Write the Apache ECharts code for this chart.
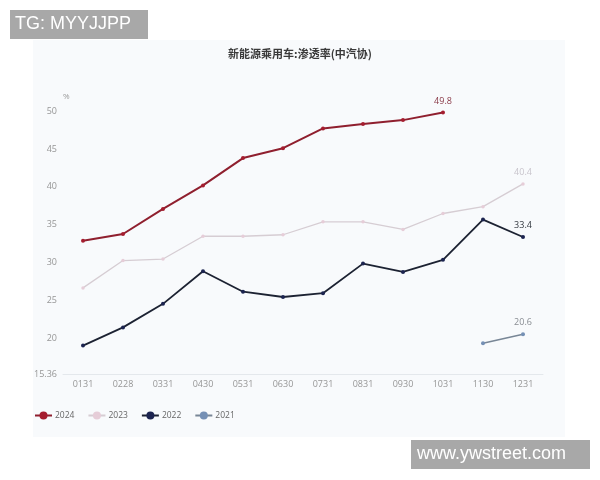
<!DOCTYPE html>
<html>
<head>
<meta charset="utf-8">
<script src="https://cdn.jsdelivr.net/npm/echarts@6/dist/echarts.min.js"></script>
<style>
html,body{margin:0;padding:0;background:#fff;}
#main{width:600px;height:480px;}
</style>
</head>
<body>
<div id="main"></div>
<script>
var categories = ['0131','0228','0331','0430','0531','0630','0731','0831','0930','1031','1130','1231'];
var s2024 = [32.9, 33.8, 37.1, 40.2, 43.8, 45.1, 47.7, 48.3, 48.8, 49.8, null, null];
var s2023 = [26.7, 30.3, 30.5, 33.5, 33.5, 33.7, 35.4, 35.4, 34.4, 36.5, 37.4, 40.4];
var s2022 = [19.1, 21.5, 24.6, 28.9, 26.2, 25.5, 26.0, 29.9, 28.8, 30.4, 35.7, 33.4];
var s2021 = [null, null, null, null, null, null, null, null, null, null, 19.4, 20.6];
var seriesNames = ['2024','2023','2022','2021'];
var yMin = 15.36, yMax = 50;

function lastLabel(arr, color) {
  var last = -1;
  for (var i = 0; i < arr.length; i++) if (arr[i] != null) last = i;
  return arr.map(function (v, i) {
    if (i === last) return {value: v, label: {show: true, position: 'top', color: color, fontSize: 9, fontFamily: 'Open Sans', distance: 5}};
    return v;
  });
}

var chart = echarts.init(document.getElementById('main'), null, {renderer: 'canvas'});
var option = {
  backgroundColor: '#ffffff',
  animation: false,
  title: {
    text: '新能源乘用车:渗透率(中汽协)',
    left: 'center',
    top: 43,
    textStyle: {fontSize: 11, fontWeight: 'bold', color: '#3a3a3a', fontFamily: 'Noto Sans CJK SC'}
  },
  graphic: [
    {type: 'rect', z: -10, silent: true, shape: {x: 33, y: 40, width: 532, height: 397}, style: {fill: '#f8fafc'}},
    {type: 'rect', z: 100, silent: true, shape: {x: 10, y: 10, width: 138, height: 29}, style: {fill: '#a8a8a8'}},
    {type: 'text', z: 101, silent: true, style: {x: 15, y: 24.5, text: 'TG: MYYJJPP', fill: '#ffffff', font: '18px "Liberation Sans"', textVerticalAlign: 'middle', verticalAlign: 'middle'}},
    {type: 'rect', z: 100, silent: true, shape: {x: 411, y: 440, width: 179, height: 29}, style: {fill: '#a8a8a8'}},
    {type: 'text', z: 101, silent: true, style: {x: 417, y: 454.5, text: 'www.ywstreet.com', fill: '#ffffff', font: '18px "Liberation Sans"', textVerticalAlign: 'middle', verticalAlign: 'middle'}}
  ],
  legend: {
    left: 29,
    top: 406,
    itemWidth: 17,
    itemHeight: 10,
    itemGap: 13,
    data: seriesNames,
    textStyle: {fontSize: 8.5, color: '#666', fontFamily: 'Open Sans', padding: [0, 0, 0, -2]}
  },
  grid: {left: 63, right: 57, top: 111, bottom: 106},
  xAxis: {
    type: 'category',
    data: categories,
    boundaryGap: true,
    axisLine: {lineStyle: {color: '#e4e8ec', width: 1}},
    axisTick: {show: false},
    axisLabel: {color: '#969696', fontSize: 9, margin: 6, fontFamily: 'Open Sans'}
  },
  yAxis: {
    type: 'value',
    min: yMin,
    max: yMax,
    splitNumber: 5,
    name: '%',
    nameGap: 10,
    nameTextStyle: {color: '#9a9a9a', fontSize: 8, align: 'left', fontFamily: 'Open Sans'},
    axisLine: {show: false},
    axisTick: {show: false},
    splitLine: {show: false},
    axisLabel: {color: '#969696', fontSize: 9, margin: 6, fontFamily: 'Open Sans'}
  },
  series: [
    {name: '2024', type: 'line', data: lastLabel(s2024, '#8a3a48'), symbol: 'circle', symbolSize: 4,
     itemStyle: {color: '#a51d2f'}, lineStyle: {color: '#8f1f2e', width: 2}, connectNulls: false},
    {name: '2023', type: 'line', data: lastLabel(s2023, '#c8c4cc'), symbol: 'circle', symbolSize: 3.5,
     itemStyle: {color: '#e6cdd8'}, lineStyle: {color: '#d6cdd3', width: 1.3}},
    {name: '2022', type: 'line', data: lastLabel(s2022, '#333840'), symbol: 'circle', symbolSize: 4,
     itemStyle: {color: '#1c2450'}, lineStyle: {color: '#1c2232', width: 1.8}},
    {name: '2021', type: 'line', data: lastLabel(s2021, '#888c92'), symbol: 'circle', symbolSize: 4,
     itemStyle: {color: '#7590b5'}, lineStyle: {color: '#788696', width: 1.5}}
  ]
};
chart.setOption(option);
</script>
</body>
</html>
